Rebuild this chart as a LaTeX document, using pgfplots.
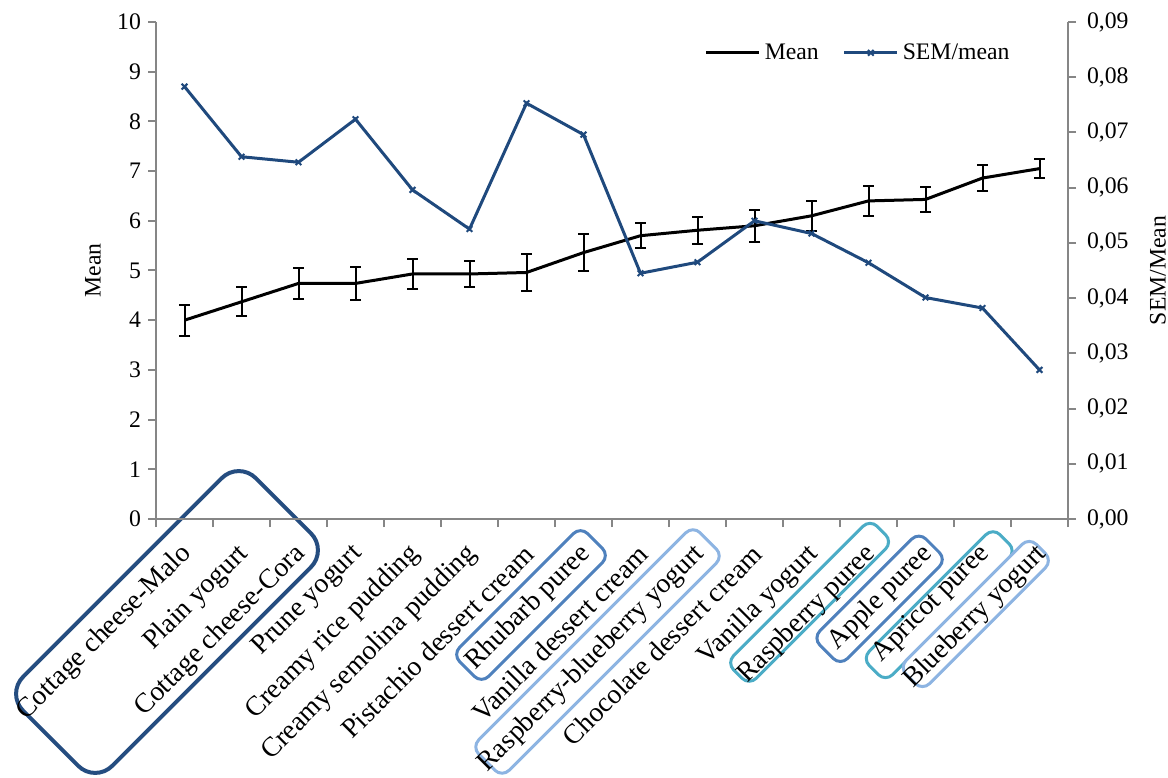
\documentclass[border=0pt]{standalone}
\usepackage{fontspec}
\setmainfont{Liberation Serif}
\usepackage{pgfplots}
\pgfplotsset{compat=1.18}
\definecolor{semblue}{HTML}{1F497D}
\definecolor{axgray}{HTML}{868686}
\definecolor{boxdark}{HTML}{254D80}
\definecolor{boxmid}{HTML}{4F81BD}
\definecolor{boxlight}{HTML}{8DB4E2}
\definecolor{boxteal}{HTML}{4BACC6}
\newcommand{\fs}{\fontsize{11.85}{14}\selectfont}
\newcommand{\fx}{\fontsize{13.8}{16}\selectfont}
\begin{document}
\begin{tikzpicture}
\useasboundingbox (0,0) rectangle (584pt,388.5pt);
% annotation boxes around category names (picture coordinates, 1px = 0.5pt)
\begin{scope}[every node/.style={rotate=45, inner sep=0pt, outer sep=0pt}]
\node[draw=boxdark, line width=2pt, rounded corners=12pt, minimum width=164.5pt, minimum height=63pt] at ({167*0.5pt},{(777-622)*0.5pt}) {};
\node[draw=boxmid, line width=1.5pt, rounded corners=5pt, minimum width=90.5pt, minimum height=20.5pt] at ({531*0.5pt},{(777-605)*0.5pt}) {};
\node[draw=boxlight, line width=1.5pt, rounded corners=5pt, minimum width=156.5pt, minimum height=21.5pt] at ({597.5*0.5pt},{(777-651.5)*0.5pt}) {};
\node[draw=boxteal, line width=1.5pt, rounded corners=5pt, minimum width=101.5pt, minimum height=16pt] at ({809.6*0.5pt},{(777-602.3)*0.5pt}) {};
\node[draw=boxmid, line width=1.5pt, rounded corners=5pt, minimum width=75pt, minimum height=19.5pt] at ({879.6*0.5pt},{(777-598.8)*0.5pt}) {};
\node[draw=boxteal, line width=1.5pt, rounded corners=5pt, minimum width=92.5pt, minimum height=16.5pt] at ({939.2*0.5pt},{(777-604.7)*0.5pt}) {};
\node[draw=boxlight, fill=white, line width=1.5pt, rounded corners=5pt, minimum width=92pt, minimum height=16.5pt] at ({975.8*0.5pt},{(777-614)*0.5pt}) {};
\end{scope}

\begin{axis}[
  at={(78pt,129pt)}, anchor=south west, scale only axis,
  width=456pt, height=248.5pt,
  xmin=-0.5, xmax=15.5, ymin=0, ymax=10,
  axis x line*=bottom, axis y line*=left,
  axis line style={axgray, line width=1pt, -},
  every tick/.style={axgray, line width=1pt},
  tick align=outside,
  major tick length=4pt, minor tick length=4pt,
  xtick={0,...,15},
  major x tick style={draw=none},
  minor xtick={-0.5,0.5,...,15.5},
  xticklabels={Cottage cheese-Malo, Plain yogurt, Cottage cheese-Cora, Prune yogurt, Creamy rice pudding, Creamy semolina pudding, Pistachio dessert cream, Rhubarb puree, Vanilla dessert cream, Raspberry-blueberry yogurt, Chocolate dessert cream, Vanilla yogurt, Raspberry puree, Apple puree, Apricot puree, Blueberry yogurt},
  xticklabel style={font=\fx, xshift=3pt, yshift=-10pt, rotate=45, anchor=east, inner sep=2pt},
  ytick={0,...,10},
  yticklabel style={font=\fs},
  /pgf/number format/assume math mode=true,
  every axis y label/.style={at={(axis description cs:-0.069,0.5)}, anchor=center, rotate=90, font=\fs},
  ylabel={Mean},
]
\addplot[black, line width=1.5pt, mark=none,
  error bars/.cd, y dir=both, y explicit,
  error bar style={line width=1pt, black},
  error mark options={rotate=90, line width=1pt, mark size=2.75pt, black}]
  table[x=x, y=y, y error=e] {
x y e
0 4.00 0.31
1 4.37 0.29
2 4.74 0.31
3 4.74 0.34
4 4.93 0.30
5 4.93 0.26
6 4.96 0.38
7 5.36 0.375
8 5.70 0.25
9 5.81 0.27
10 5.90 0.32
11 6.10 0.30
12 6.40 0.30
13 6.43 0.26
14 6.86 0.26
15 7.05 0.19
};
\end{axis}

\begin{axis}[
  at={(78pt,129pt)}, anchor=south west, scale only axis,
  width=456pt, height=248.5pt,
  xmin=-0.5, xmax=15.5, ymin=0, ymax=0.09,
  axis x line=none, axis y line*=right,
  axis line style={axgray, line width=1pt, -},
  every tick/.style={axgray, line width=1pt},
  tick align=outside, major tick length=4pt,
  ytick={0,0.01,0.02,0.03,0.04,0.05,0.06,0.07,0.08,0.09},
  scaled y ticks=false,
  yticklabel style={font=\fs, xshift=2pt, /pgf/number format/.cd, fixed, fixed zerofill, precision=2, use comma},
  /pgf/number format/assume math mode=true,
  every axis y label/.style={at={(axis description cs:1.0987,0.5)}, anchor=center, rotate=90, font=\fs},
  ylabel={SEM/Mean},
  legend style={at={(0.771,0.938)}, anchor=center, draw=none, fill=none, font=\fs,
    legend columns=2, /tikz/every even column/.append style={column sep=10pt}},
  legend image code/.code={\draw[#1, mark repeat=2, mark phase=2] plot coordinates {(0pt,0pt) (13.25pt,0pt) (26.5pt,0pt)};},
]
\addlegendimage{black, line width=1.5pt}
\addlegendentry{Mean}
\addplot[semblue, line width=1.5pt, mark=x, mark size=2pt, mark options={line width=1pt}] coordinates {
(0,0.0783) (1,0.0656) (2,0.0646) (3,0.0724) (4,0.0596) (5,0.0525) (6,0.0753) (7,0.0696)
(8,0.0445) (9,0.0465) (10,0.0540) (11,0.0517) (12,0.0464) (13,0.0401) (14,0.0382) (15,0.0270)
};
\addlegendentry{SEM/mean}
\end{axis}
\end{tikzpicture}
\end{document}
